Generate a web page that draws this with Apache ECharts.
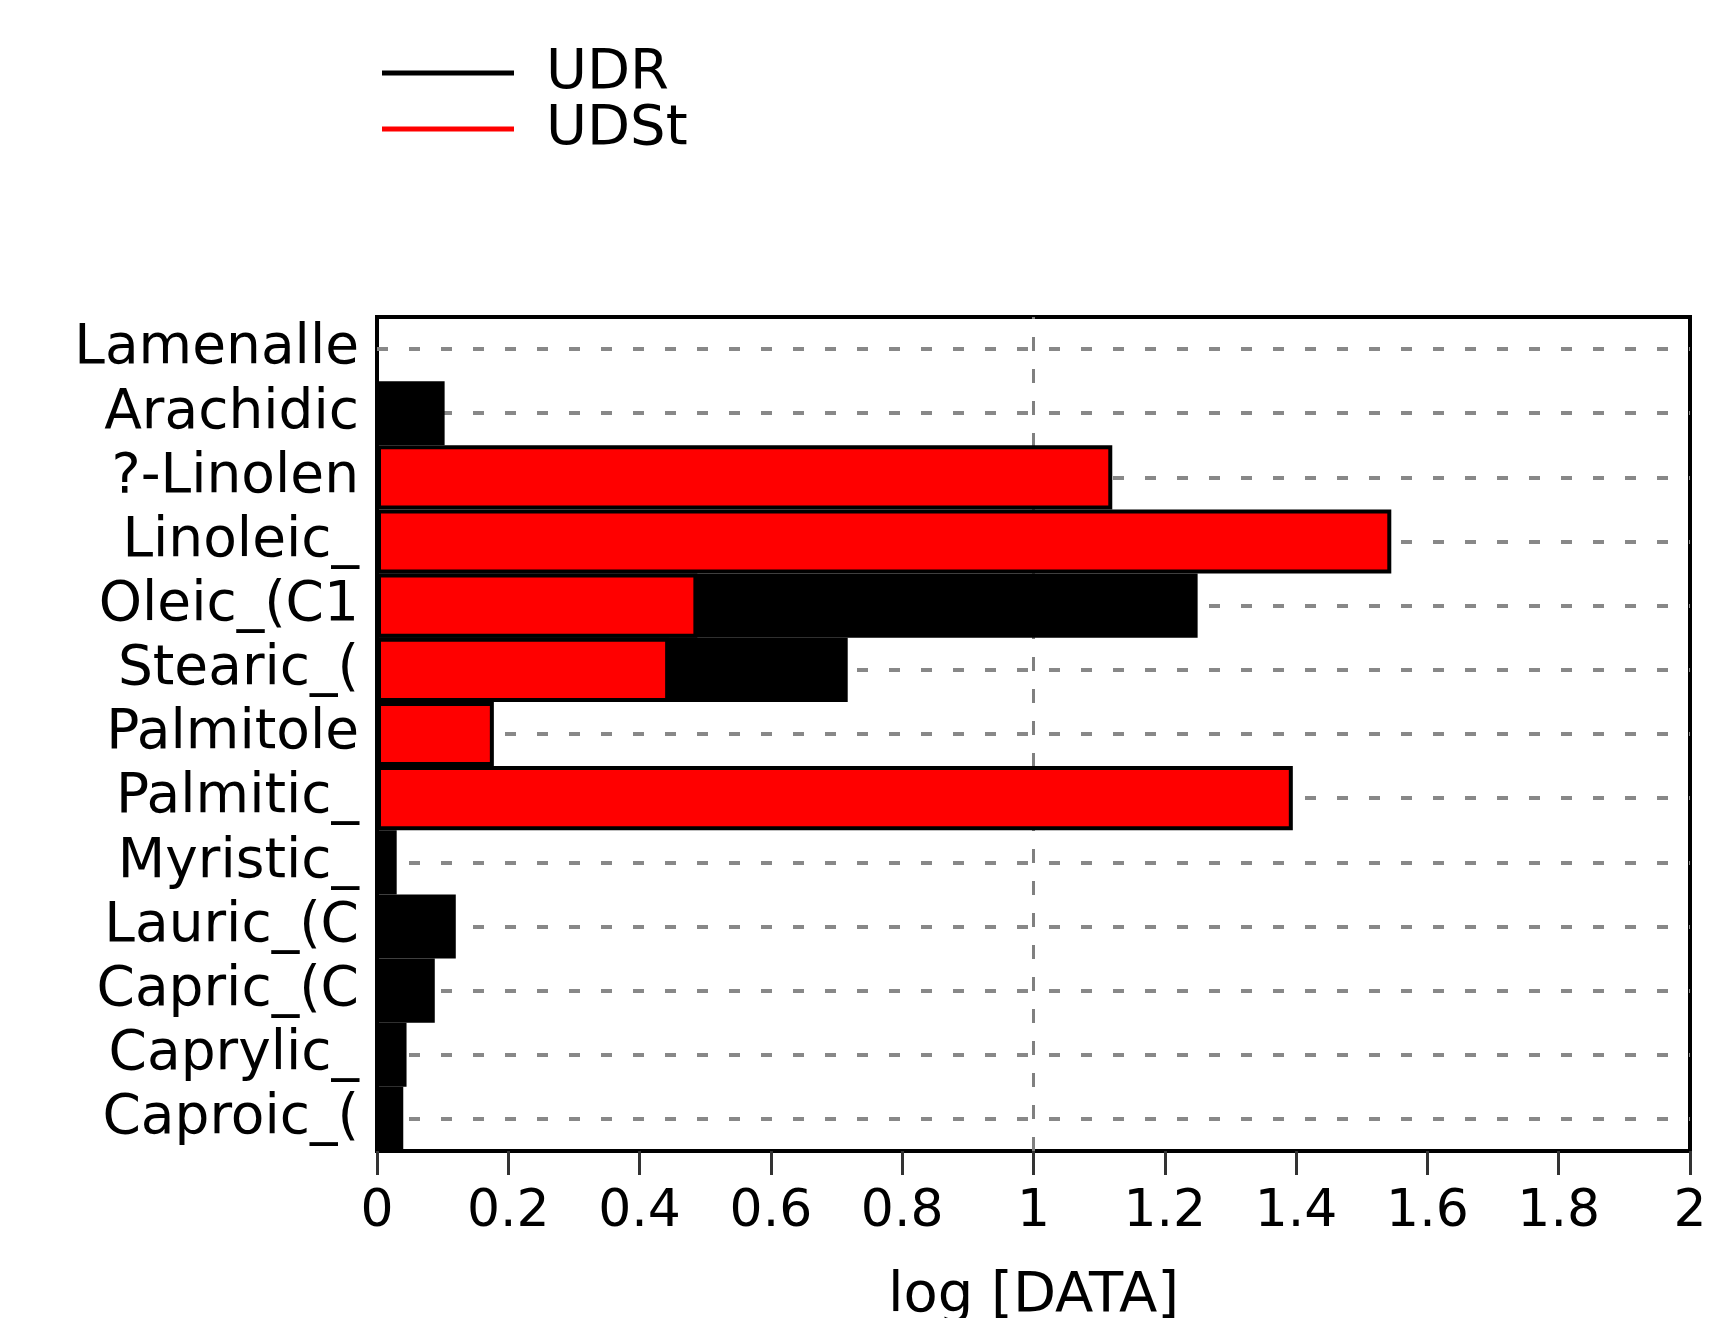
<!DOCTYPE html>
<html>
<head>
<meta charset="utf-8">
<script src="https://cdn.jsdelivr.net/npm/echarts@6/dist/echarts.min.js"></script>
<style>
html,body{margin:0;padding:0;background:#fff;}
#chart{width:1715px;height:1318px;}
</style>
</head>
<body>
<div id="chart"></div>
<script>
const categories = ['Caproic_(', 'Caprylic_', 'Capric_(C', 'Lauric_(C', 'Myristic_', 'Palmitic_', 'Palmitole', 'Stearic_(', 'Oleic_(C1', 'Linoleic_', '?-Linolen', 'Arachidic', 'Lamenalle'];
const udr  = [0.04, 0.045, 0.088, 0.12, 0.03, '-', '-', 0.717, 1.25, '-', '-', 0.103, '-'];
const udst = ['-', '-', '-', '-', '-', 1.395, 0.178, 0.445, 0.488, 1.545, 1.12, '-', '-'];
const xTicks = { min: 0, max: 2, interval: 0.2 };

const FONT = 'DejaVu Sans';
const chart = echarts.init(document.getElementById('chart'));

const gridLines = categories.map(c => ({ yAxis: c }));
gridLines.push({ xAxis: 1, lineStyle: { type: [14, 18], width: 3, color: '#808080' } });

chart.setOption({
  animation: false,
  backgroundColor: '#fff',
  legend: {
    orient: 'vertical',
    left: 377,
    top: 40,
    itemGap: 0,
    icon: 'rect',
    itemWidth: 132,
    itemHeight: 5,
    itemStyle: { borderWidth: 0 },
    textStyle: { fontFamily: FONT, fontSize: 56, lineHeight: 52, color: '#000', padding: [0, 0, 0, 27] },
    data: ['UDR', 'UDSt']
  },
  grid: {
    left: 377, top: 317, width: 1313, height: 834,
    outerBoundsMode: 'none', containLabel: false,
    show: true, borderColor: '#000', borderWidth: 4, backgroundColor: 'transparent'
  },
  xAxis: {
    type: 'value',
    min: xTicks.min, max: xTicks.max, interval: xTicks.interval,
    name: 'log [DATA]',
    nameLocation: 'middle',
    nameGap: 117,
    nameTextStyle: { fontFamily: FONT, fontSize: 56, color: '#000' },
    axisLine: { show: true, lineStyle: { color: '#000', width: 4 } },
    axisTick: { show: true, length: 24, lineStyle: { color: '#333', width: 3 } },
    axisLabel: { fontFamily: FONT, fontSize: 52, color: '#000', margin: 35 },
    splitLine: { show: false }
  },
  yAxis: {
    type: 'category',
    data: categories,
    axisLine: { show: true, lineStyle: { color: '#000', width: 4 } },
    axisTick: { show: false },
    axisLabel: { fontFamily: FONT, fontSize: 55, color: '#000', margin: 18, interval: 0 },
    splitLine: { show: false }
  },
  series: [
    {
      name: 'UDR', type: 'bar', data: udr,
      barGap: '-100%', barCategoryGap: 0,
      itemStyle: { color: '#000', borderColor: '#000', borderWidth: 4 },
      z: 2,
      markLine: {
        silent: true, z: 1, symbol: 'none',
        label: { show: false },
        lineStyle: { type: [11, 21], width: 4, color: '#888' },
        data: gridLines
      }
    },
    {
      name: 'UDSt', type: 'bar', data: udst,
      barGap: '-100%', barCategoryGap: 0,
      itemStyle: { color: '#ff0000', borderColor: '#000', borderWidth: 4 },
      z: 3
    }
  ]
});
</script>
</body>
</html>
